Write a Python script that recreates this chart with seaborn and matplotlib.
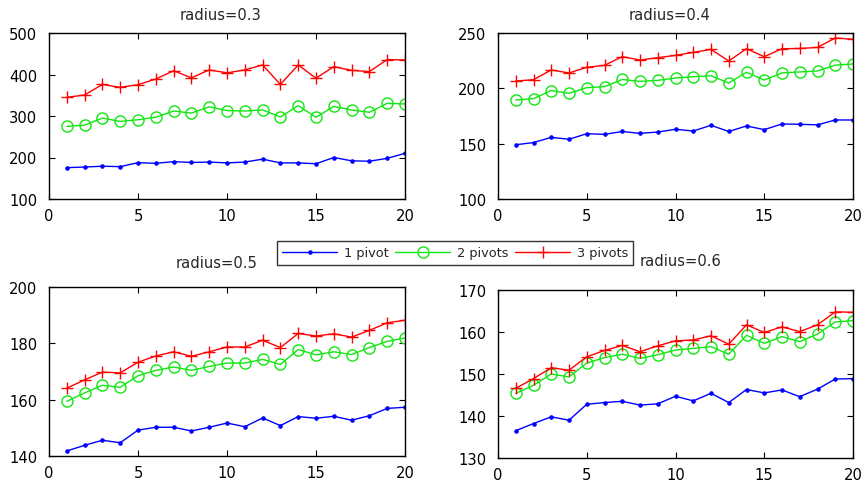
import numpy as np
import pandas as pd
import matplotlib
matplotlib.use("Agg")
import matplotlib.pyplot as plt
import seaborn as sns

x = list(range(1, 21))
series_names = ["1 pivot", "2 pivots", "3 pivots"]
radii = ["0.3", "0.4", "0.5", "0.6"]

r03_p1 = [175.5, 177, 179, 178, 187.5, 186, 190, 188, 189, 187, 189, 196, 187, 187, 185, 200, 192, 191, 198, 210]
r03_p2 = [275, 278, 295, 287, 291, 297, 312, 307, 322, 313, 312, 314.5, 297.6, 325, 297, 323, 314.5, 309, 330.5, 329]
r03_p3 = [345, 350.6, 376, 369, 375.5, 389, 409, 392, 411, 404, 411, 423, 376, 423, 391, 419, 410, 407, 436, 435]

r04_p1 = [149, 151, 155.7, 154, 159, 158.4, 161, 159.3, 160.5, 163, 161.4, 166.6, 161, 166, 162.7, 167.8, 167.5, 167, 171.4, 171.4]
r04_p2 = [189.5, 190.7, 198, 195.5, 200.6, 201.5, 208, 206.3, 207.2, 209.3, 210.5, 211.4, 204.8, 214.5, 207.5, 214, 214.8, 215.7, 221, 222]
r04_p3 = [206.6, 207.8, 216.6, 213.9, 219, 220.8, 228.6, 225.6, 227.7, 229.8, 232.5, 235.2, 224.7, 235.8, 228.6, 235.8, 236, 237, 245.5, 244.3]

r05_p1 = [141.8, 143.8, 145.6, 144.7, 149.2, 150.2, 150.2, 148.9, 150.2, 151.7, 150.4, 153.5, 150.8, 154, 153.4, 154.1, 152.7, 154.3, 156.9, 157.3]
r05_p2 = [159.4, 162.4, 165.1, 164.4, 168.5, 170.4, 171.6, 170.4, 171.8, 173, 173, 174.3, 172.5, 177.8, 175.9, 177, 176, 178.5, 180.7, 181.9]
r05_p3 = [164.1, 167, 169.8, 169.5, 173.3, 175.5, 177, 175.4, 177, 178.7, 178.7, 181.1, 178.5, 183.5, 182.6, 183.4, 182.2, 184.6, 187.3, 188.2]

r06_p1 = [136.5, 138.2, 139.8, 139, 142.8, 143.2, 143.5, 142.6, 142.9, 144.7, 143.6, 145.4, 143.2, 146.3, 145.5, 146.2, 144.6, 146.4, 148.8, 148.9]
r06_p2 = [145.4, 147.3, 150, 149.3, 152.6, 153.9, 154.7, 153.7, 154.6, 155.7, 156.1, 156.5, 154.7, 159.2, 157.3, 158.9, 157.7, 159.5, 162.4, 162.7]
r06_p3 = [146.6, 148.9, 151.5, 150.9, 154.1, 155.6, 156.8, 155.3, 156.7, 157.9, 158.1, 159.1, 157.1, 161.7, 159.9, 161.2, 160.1, 161.7, 164.8, 164.7]

panel_data = {
    "0.3": [r03_p1, r03_p2, r03_p3],
    "0.4": [r04_p1, r04_p2, r04_p3],
    "0.5": [r05_p1, r05_p2, r05_p3],
    "0.6": [r06_p1, r06_p2, r06_p3],
}
ylims = {"0.3": (100, 500), "0.4": (100, 250), "0.5": (140, 200), "0.6": (130, 170)}
yticks = {"0.3": [100, 200, 300, 400, 500], "0.4": [100, 150, 200, 250],
          "0.5": [140, 160, 180, 200], "0.6": [130, 140, 150, 160, 170]}
xticks = [0, 5, 10, 15, 20]

sns.set_style("ticks")
plt.rcParams['font.family'] = ['DejaVu Sans']

W, H = 863, 489
fig = plt.figure(figsize=(W / 100, H / 100), dpi=100)

# axes boxes in pixel coordinates: left, top, right, bottom
boxes = {
    "0.3": (49, 34, 405, 200),
    "0.4": (498, 34, 853, 200),
    "0.5": (49, 288, 405, 457),
    "0.6": (498, 291, 853, 459),
}
# title centers in pixel coordinates
title_pos = {"0.3": (221, 15), "0.4": (670, 15), "0.5": (217, 263), "0.6": (681, 262)}

green = "#11e611"
colors = ["#0000ff", green, "#ff0000"]
styles = [
    dict(marker='.', markersize=5, markerfacecolor="#0000ff", markeredgecolor="#0000ff"),
    dict(marker='o', markersize=8, markerfacecolor='none', markeredgecolor=green, markeredgewidth=1.0),
    dict(marker='+', markersize=9, markeredgecolor="#ff0000", markeredgewidth=1.0),
]

handles = None
for r in radii:
    l, t, rr, b = boxes[r]
    ax = fig.add_axes([l / W, 1 - b / H, (rr - l) / W, (b - t) / H])
    rows = []
    for name, vals in zip(series_names, panel_data[r]):
        for xi, v in zip(x, vals):
            rows.append((xi, v, name))
    df = pd.DataFrame(rows, columns=["x", "y", "series"])
    for i, name in enumerate(series_names):
        sns.lineplot(data=df[df.series == name], x="x", y="y", ax=ax, color=colors[i],
                     linewidth=1.0, label=name, legend=False, **styles[i])
    ax.set_xlim(0, 20)
    ax.set_ylim(*ylims[r])
    ax.set_xticks(xticks)
    ax.set_yticks(yticks[r])
    ax.set_xlabel("")
    ax.set_ylabel("")
    ax.tick_params(direction='in', length=4, width=0.8, top=True, right=True,
                   labelsize=10.6, colors='black')
    ax.tick_params(axis='y', pad=8.5)
    ax.tick_params(axis='x', pad=6.5)
    for s in ax.spines.values():
        s.set_linewidth(1.0)
        s.set_color('black')
    tx, ty = title_pos[r]
    fig.text(tx / W, 1 - ty / H, f"radius={r}", fontsize=10.6, ha='center', va='center')
    if handles is None:
        handles, labels = ax.get_legend_handles_labels()

leg = fig.legend(handles, labels, ncol=3, loc='center', bbox_to_anchor=(455 / W, 1 - 254 / H),
                 frameon=True, fancybox=False, edgecolor='black', fontsize=9.3,
                 handlelength=4.3, columnspacing=0.5, handletextpad=0.5,
                 borderpad=0.4, borderaxespad=0)
leg.get_frame().set_linewidth(1.0)

fig.savefig("out.png", dpi=100)
